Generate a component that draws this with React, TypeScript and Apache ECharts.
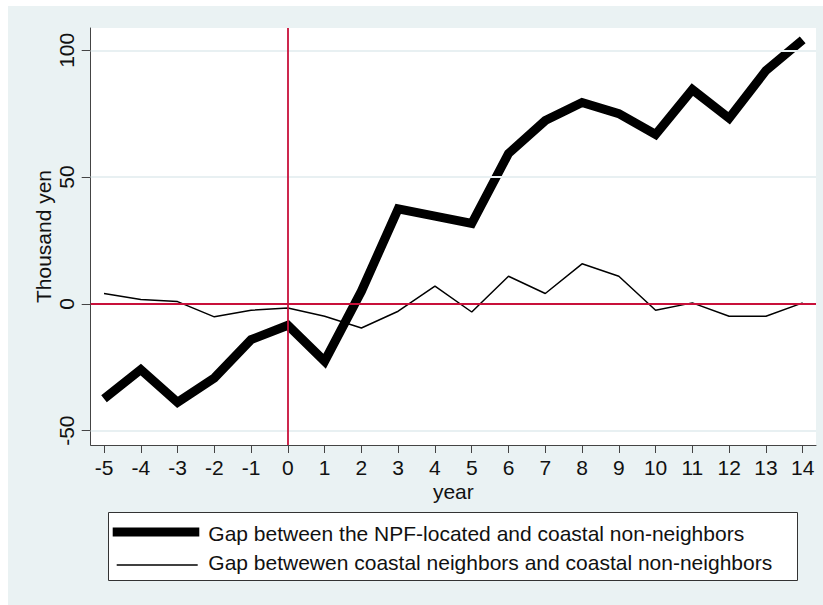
import React, { useEffect, useRef } from "react";
import * as echarts from "echarts";

const years = [-5, -4, -3, -2, -1, 0, 1, 2, 3, 4, 5, 6, 7, 8, 9, 10, 11, 12, 13, 14];
const npfGap = [-37.4, -25.9, -38.8, -29.2, -14.1, -8.4, -22.6, 5.0, 37.5, 34.6, 31.7, 59.3, 72.3, 79.4, 75.0, 66.8, 84.5, 73.2, 92.0, 104.1];
const neighborGap = [4.1, 1.7, 0.9, -5.1, -2.5, -1.6, -4.9, -9.5, -2.9, 7.0, -3.2, 10.9, 4.1, 15.8, 10.9, -2.5, 0.4, -4.9, -4.9, 0.4];
const yTicks = [-50, 0, 50, 100];
const xTicks = years;
const gridLineValues = [-50, 50, 100];
const refX = [0];
const refY = [0];

const seriesNames = [
  "Gap between the NPF-located and coastal non-neighbors",
  "Gap betwewen coastal neighbors and coastal non-neighbors",
];
const xTitle = "year";
const yTitle = "Thousand yen";

const FONT = "'Liberation Sans', Arial, Helvetica, sans-serif";
const TXT = "#111";

export default function App() {
  const ref = useRef<HTMLDivElement>(null);
  useEffect(() => {
    if (!ref.current) return;
    const chart = echarts.init(ref.current, undefined, { renderer: "svg" });
    const option: any = {
      animation: false,
      backgroundColor: "#eaf2f3",
      textStyle: { fontFamily: FONT },
      grid: {
        left: 82.7,
        top: 22,
        right: 7,
        bottom: 160,
        show: true,
        backgroundColor: "#ffffff",
        borderWidth: 0,
        containLabel: false,
      },
      xAxis: {
        type: "value",
        min: -5.362,
        max: 14.362,
        name: xTitle,
        nameLocation: "middle",
        nameGap: 36,
        nameMoveOverlap: false,
        nameTextStyle: { fontSize: 21, color: TXT, fontFamily: FONT, lineHeight: 21 },
        axisLine: { show: true, onZero: false, lineStyle: { color: "#444", width: 1 } },
        axisTick: { show: true, length: 8, customValues: xTicks, lineStyle: { color: "#444", width: 1 } },
        axisLabel: {
          customValues: xTicks,
          fontSize: 21,
          lineHeight: 21,
          color: TXT,
          fontFamily: FONT,
          margin: 12,
        },
        splitLine: { show: false },
      },
      yAxis: {
        type: "value",
        min: -55.65,
        max: 108.8,
        name: yTitle,
        nameLocation: "middle",
        nameGap: 37,
        nameMoveOverlap: false,
        nameRotate: 90,
        nameTextStyle: { fontSize: 21, color: TXT, fontFamily: FONT, lineHeight: 21 },
        axisLine: { show: true, onZero: false, lineStyle: { color: "#444", width: 1 } },
        axisTick: { show: true, length: 9, customValues: yTicks, lineStyle: { color: "#444", width: 1 } },
        axisLabel: {
          customValues: yTicks,
          rotate: 90,
          fontSize: 21,
          lineHeight: 21,
          color: TXT,
          fontFamily: FONT,
          margin: 14,
        },
        splitLine: { show: false },
      },
      series: [
        {
          type: "line",
          name: "grid",
          data: [],
          z: 1,
          silent: true,
          markLine: {
            silent: true,
            symbol: ["none", "none"],
            label: { show: false },
            emphasis: { disabled: true },
            lineStyle: { color: "#e8f0f2", width: 2, type: "solid" },
            data: gridLineValues.map((v) => ({ yAxis: v })),
          },
        },
        {
          type: "line",
          name: "ref",
          data: [],
          z: 2,
          silent: true,
          markLine: {
            silent: true,
            symbol: ["none", "none"],
            label: { show: false },
            emphasis: { disabled: true },
            lineStyle: { color: "#c8103a", width: 1.8, type: "solid" },
            data: [
              ...refX.map((v) => ({ xAxis: v })),
              ...refY.map((v) => ({ yAxis: v })),
            ],
          },
        },
        {
          type: "line",
          name: seriesNames[1],
          z: 3,
          symbol: "none",
          data: years.map((y, i) => [y, neighborGap[i]]),
          lineStyle: { color: "#000", width: 1.5 },
          emphasis: { disabled: true },
        },
        {
          type: "line",
          name: seriesNames[0],
          z: 4,
          symbol: "none",
          data: years.map((y, i) => [y, npfGap[i]]),
          lineStyle: { color: "#000", width: 9, join: "miter", cap: "butt" },
          emphasis: { disabled: true },
        },
      ],
      graphic: [
        {
          type: "rect",
          z: 10,
          shape: { x: 100.5, y: 506.5, width: 689, height: 68 },
          style: { fill: "#fff", stroke: "#333", lineWidth: 1 },
        },
        {
          type: "line",
          z: 11,
          shape: { x1: 104.7, y1: 526, x2: 191.3, y2: 526 },
          style: { stroke: "#000", lineWidth: 9 },
        },
        {
          type: "line",
          z: 11,
          shape: { x1: 108.7, y1: 559, x2: 189.7, y2: 559 },
          style: { stroke: "#000", lineWidth: 1.5 },
        },
        {
          type: "text",
          z: 11,
          x: 200.3,
          y: 527,
          style: { text: seriesNames[0], fontSize: 21, fontFamily: FONT, fill: TXT, verticalAlign: "middle", align: "left" },
        },
        {
          type: "text",
          z: 11,
          x: 200.3,
          y: 556,
          style: { text: seriesNames[1], fontSize: 21, fontFamily: FONT, fill: TXT, verticalAlign: "middle", align: "left" },
        },
      ],
    };
    chart.setOption(option);
    return () => chart.dispose();
  }, []);
  return (
    <div
      ref={ref}
      style={{ position: "absolute", left: 8, top: 6, width: 815, height: 599 }}
    />
  );
}
